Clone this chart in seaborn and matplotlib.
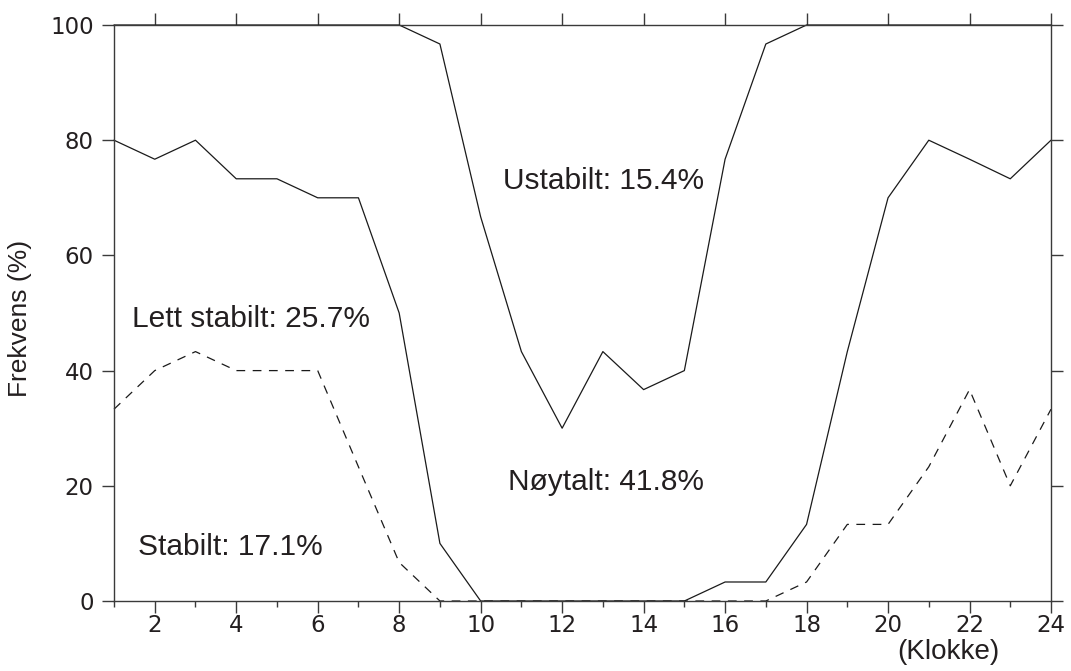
import matplotlib
matplotlib.use("Agg")
import matplotlib.pyplot as plt
from matplotlib.ticker import FixedLocator
import seaborn as sns
import pandas as pd

# hourly cumulative frequencies (%)
hours = list(range(1, 25))
ustabilt_grense = [100, 100, 100, 100, 100, 100, 100, 100, 96.7, 66.7, 43.3, 30,
                   43.3, 36.7, 40, 76.7, 96.7, 100, 100, 100, 100, 100, 100, 100]
noytralt_grense = [80, 76.7, 80, 73.3, 73.3, 70, 70, 50, 10, 0, 0, 0,
                   0, 0, 0, 3.3, 3.3, 13.3, 43.3, 70, 80, 76.7, 73.3, 80]
stabilt_grense = [33.3, 40, 43.3, 40, 40, 40, 23.3, 6.7, 0, 0, 0, 0,
                  0, 0, 0, 0, 0, 3.3, 13.3, 13.3, 23.3, 36.7, 20, 33.3]

labels = ["Ustabilt: 15.4%", "Lett stabilt: 25.7%", "Nøytalt: 41.8%", "Stabilt: 17.1%"]
label_pos = [(10.55, 73), (1.45, 49), (10.67, 20.7), (1.6, 9.4)]

df = pd.DataFrame({"Klokke": hours, "ust": ustabilt_grense,
                   "noy": noytralt_grense, "stab": stabilt_grense})

sns.set_style("ticks")
plt.rcParams["font.family"] = ["Liberation Sans", "DejaVu Sans"]

fig = plt.figure(figsize=(10.71, 6.71), dpi=100)
ax = fig.add_axes([114 / 1071, 1 - 601 / 671, 937 / 1071, 576 / 671])

line_col = "#1a1a1a"
sns.lineplot(data=df, x="Klokke", y="ust", ax=ax, color=line_col, lw=0.9, clip_on=False)
sns.lineplot(data=df, x="Klokke", y="noy", ax=ax, color=line_col, lw=0.9, clip_on=False)
sns.lineplot(data=df, x="Klokke", y="stab", ax=ax, color=line_col, lw=0.9,
             dashes=False, clip_on=False)
ax.lines[-1].set_dashes((7, 6))

for txt, (x, y) in zip(labels, label_pos):
    ax.text(x, y, txt, fontsize=21.5, color="#231f20", ha="left", va="center")

ax.set_xlim(1, 24)
ax.set_ylim(0, 100)
ax.xaxis.set_major_locator(FixedLocator(range(2, 25, 2)))
ax.xaxis.set_minor_locator(FixedLocator(range(1, 25, 2)))
ax.yaxis.set_major_locator(FixedLocator(range(0, 101, 20)))

spine_col = "#3a3a3a"
for s in ax.spines.values():
    s.set_visible(True)
    s.set_color(spine_col)
    s.set_linewidth(1.0)

ax.tick_params(axis="y", which="major", left=True, right=True, direction="out",
               length=8.6, width=1.0, color=spine_col, pad=6,
               labelsize=16.5, labelcolor="#231f20", labelfontfamily="DejaVu Sans")
ax.tick_params(axis="x", which="major", bottom=True, top=True, direction="out",
               length=8.6, width=1.0, color=spine_col, pad=1,
               labelsize=16.5, labelcolor="#231f20", labelfontfamily="DejaVu Sans")
ax.tick_params(axis="x", which="minor", bottom=True, top=False, direction="out",
               length=4.3, width=1.0, color=spine_col)

ax.set_xlabel("")
ax.set_ylabel("Frekvens (%)", fontsize=19, color="#231f20")
ax.yaxis.set_label_coords(-0.088, 0.49)

fig.text(948 / 1071, 1 - 652 / 671, "(Klokke)", fontsize=20, color="#231f20",
         ha="center", va="center")

fig.savefig("out.png", dpi=100)
